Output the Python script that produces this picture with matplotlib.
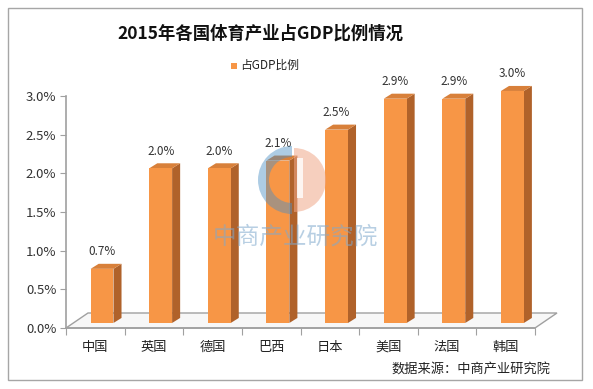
import matplotlib
matplotlib.use("Agg")
import matplotlib.pyplot as plt
from matplotlib.patches import Polygon, Rectangle, Wedge

plt.rcParams['font.family'] = ['Noto Sans CJK SC', 'DejaVu Sans']

# Data
categories = ["中国", "英国", "德国", "巴西", "日本", "美国", "法国", "韩国"]
values = [0.7, 2.0, 2.0, 2.1, 2.5, 2.9, 2.9, 3.0]
value_labels = ["0.7%", "2.0%", "2.0%", "2.1%", "2.5%", "2.9%", "2.9%", "3.0%"]
yticks = [0.0, 0.5, 1.0, 1.5, 2.0, 2.5, 3.0]
title = "2015年各国体育产业占GDP比例情况"
legend_label = "占GDP比例"
source = "数据来源：中商产业研究院"

W, H = 593, 389
fig = plt.figure(figsize=(W / 100, H / 100), dpi=100)
fig.patch.set_facecolor("white")

# outer border
fig.add_artist(Rectangle((8 / W, 9 / H), 574 / W, 372 / H, transform=fig.transFigure,
                         fill=False, edgecolor="#a6a6a6", linewidth=1.0))

ax = fig.add_axes([66 / W, (H - 328) / H, 469 / W, 232 / H])
ax.set_xlim(0, len(categories))
ax.set_ylim(0, 3.0)
for s in ["top", "right"]:
    ax.spines[s].set_visible(False)
for s in ["left", "bottom"]:
    ax.spines[s].set_color("#a0a0a0")
    ax.spines[s].set_linewidth(1.2)

ax.set_yticks(yticks)
ax.set_yticklabels([f"{t:.1f}%" for t in yticks], fontsize=9.5, color="#333333")
ax.set_xticks(range(len(categories) + 1))
ax.set_xticklabels([])
ax.tick_params(axis="y", length=4, color="#a0a0a0", pad=3)
ax.tick_params(axis="x", length=5, color="#a0a0a0")

# floor (3D base)
fdx, fdy = 0.375, 0.194
n = len(categories)
floor = Polygon([(0, 0), (n, 0), (n + fdx, fdy), (fdx, fdy)], closed=True,
                facecolor="#f7f7f7", edgecolor="#a0a0a0", linewidth=1.0,
                clip_on=False, zorder=1)
ax.add_patch(floor)

# bars
front_c = "#F79646"
side_c = "#B0622A"
top_c = "#D8803A"
bw = 0.39
ox, oy = 0.42, 0.065
ddx, ddy = 0.137, 0.065
for i, v in enumerate(values):
    x0 = i + ox
    x1 = x0 + bw
    y0 = oy
    y1 = oy + v
    ax.add_patch(Polygon([(x1, y0), (x1 + ddx, y0 + ddy), (x1 + ddx, y1 + ddy), (x1, y1)],
                         closed=True, facecolor=side_c, edgecolor="none", clip_on=False, zorder=3))
    ax.add_patch(Polygon([(x0, y1), (x1, y1), (x1 + ddx, y1 + ddy), (x0 + ddx, y1 + ddy)],
                         closed=True, facecolor=top_c, edgecolor="none", clip_on=False, zorder=3))
    ax.add_patch(Rectangle((x0, y0), bw, v, facecolor=front_c, edgecolor="none",
                           clip_on=False, zorder=4))
    ax.annotate(value_labels[i], xy=(x0 + bw / 2, y1 + ddy), xytext=(0, 4),
                textcoords="offset points", ha="center", va="bottom",
                fontsize=8.5, color="#333333", zorder=6, annotation_clip=False)
    ax.text(i + 0.5, -0.25, categories[i], ha="center", va="center",
            fontsize=9.5, color="#222222", clip_on=False)

# watermark
wm = fig.add_axes([0, 0, 1, 1], facecolor="none")
wm.set_xlim(0, W)
wm.set_ylim(H, 0)
wm.axis("off")
wm.add_patch(Wedge((292, 180), 34, 90, 270, width=11, facecolor="#4a8fc4",
                   alpha=0.45, edgecolor="none"))
wm.add_patch(Wedge((294, 180), 32, -90, 90, facecolor="#f0a88a",
                   alpha=0.55, edgecolor="none"))
wm.add_patch(Rectangle((297, 158), 6, 40, facecolor="white", alpha=0.8, edgecolor="none"))
wm.text(295, 237, "中商产业研究院", ha="center", va="center", fontsize=17,
        color="#7fa9cc", alpha=0.55)

# title, legend, source
fig.text(260 / W, 1 - 34 / H, title, ha="center", va="center",
         fontsize=12.5, fontweight="bold", color="#111111")
fig.add_artist(Rectangle((231 / W, 1 - 69 / H), 6 / W, 6 / H, transform=fig.transFigure,
                         facecolor=front_c, edgecolor="none"))
fig.text(240 / W, 1 - 65 / H, legend_label, ha="left", va="center",
         fontsize=8.5, color="#222222")
fig.text(550 / W, 1 - 370 / H, source, ha="right", va="center",
         fontsize=9.5, color="#222222")

fig.savefig("out.png", dpi=100, facecolor="white")
